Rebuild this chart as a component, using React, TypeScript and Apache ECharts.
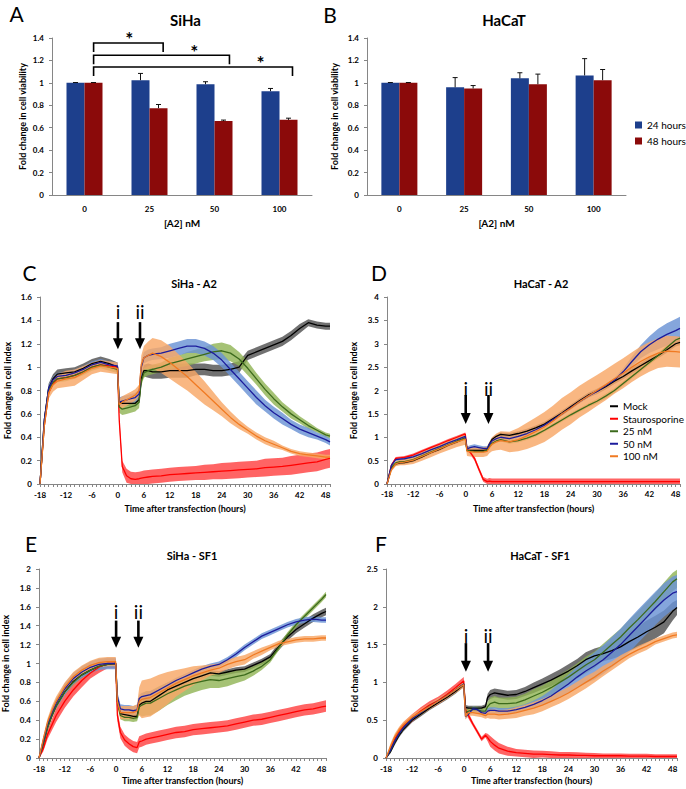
import { useEffect, useRef } from 'react';
import * as echarts from 'echarts';

// ---------- Bar panels (A, B) ----------
const DOSES = ['0', '25', '50', '100'];
const SIHA_24H = [1.0, 1.024, 0.988, 0.926];
const SIHA_24H_ERR = [0.003, 0.06, 0.022, 0.024];
const SIHA_48H = [1.0, 0.774, 0.659, 0.67];
const SIHA_48H_ERR = [0.003, 0.033, 0.009, 0.015];
const HACAT_24H = [1.0, 0.96, 1.04, 1.066];
const HACAT_24H_ERR = [0.003, 0.087, 0.05, 0.15];
const HACAT_48H = [1.0, 0.95, 0.988, 1.024];
const HACAT_48H_ERR = [0.003, 0.026, 0.09, 0.095];

// significance brackets (panel A), in category units from category 0
const SIG_START = 0.14;
const SIG_END = [1.21, 2.23, 3.2];
const SIG_STAR = [0.69, 1.69, 2.71];
const SIG_TOP = [1.356, 1.246, 1.142];
const SIG_DROP = 0.08;

// ---------- Time-course panels (C-F) ----------
const T = [-18, -17, -16, -15, -14, -12, -10, -8, -6, -4, -2, -0.1,
  0.3, 1, 2, 3, 4, 4.9,
  5.4, 6, 7, 8,
  10, 12, 14, 16, 18, 20, 22, 24, 26, 28, 30, 32, 34, 36, 38, 40, 42, 44, 46, 48,
  49];

// C: SiHa - A2
const C_MOCK = [0, 0.55, 0.82, 0.9, 0.94, 0.95, 0.96, 0.99, 1.03, 1.05, 1.03, 1.0,
  0.7, 0.69, 0.69, 0.69, 0.69, 0.72,
  0.9, 0.97, 0.97, 0.96,
  0.96, 0.97, 0.97, 0.97, 0.98, 0.98, 0.97, 0.97, 0.98, 1.0, 1.1, 1.13, 1.16, 1.19, 1.22, 1.27, 1.33, 1.38, 1.36, 1.35,
  1.35];
const C_STAU = [0, 0.5, 0.78, 0.86, 0.9, 0.91, 0.93, 0.96, 1.0, 1.02, 1.01, 1.0,
  0.55, 0.15, 0.07, 0.045, 0.04, 0.045,
  0.05, 0.055, 0.06, 0.065,
  0.07, 0.08, 0.085, 0.09, 0.095, 0.1, 0.105, 0.11, 0.115, 0.12, 0.125, 0.13, 0.14, 0.145, 0.15, 0.16, 0.17, 0.18, 0.19, 0.21,
  0.22];
const C_25 = [0, 0.52, 0.8, 0.87, 0.9, 0.91, 0.93, 0.96, 1.0, 1.02, 1.0, 0.98,
  0.66, 0.64, 0.65, 0.66, 0.67, 0.7,
  0.88, 0.95, 0.97, 0.98,
  1.0, 1.03, 1.05, 1.07, 1.09, 1.11, 1.13, 1.14, 1.12, 1.07, 0.99, 0.9, 0.81, 0.73, 0.66, 0.6, 0.55, 0.5, 0.46, 0.42,
  0.41];
const C_50 = [0, 0.55, 0.82, 0.89, 0.92, 0.93, 0.95, 0.98, 1.02, 1.04, 1.02, 1.01,
  0.7, 0.71, 0.72, 0.73, 0.74, 0.77,
  1.0, 1.08, 1.1, 1.11,
  1.12, 1.14, 1.16, 1.18, 1.18, 1.16, 1.12, 1.06, 0.98, 0.9, 0.82, 0.74, 0.67, 0.61, 0.56, 0.51, 0.47, 0.44, 0.41, 0.38,
  0.36];
const C_100 = [0, 0.5, 0.78, 0.85, 0.88, 0.9, 0.91, 0.95, 0.99, 1.01, 1.0, 0.99,
  0.68, 0.7, 0.72, 0.74, 0.76, 0.8,
  1.02, 1.08, 1.1, 1.12,
  1.09, 1.04, 0.98, 0.92, 0.85, 0.78, 0.71, 0.64, 0.57, 0.51, 0.46, 0.41, 0.37, 0.34, 0.31, 0.28, 0.26, 0.25, 0.24, 0.23,
  0.23];
const C_MOCK_E = [0, 0.03, 0.04, 0.04, 0.04, 0.04, 0.04, 0.04, 0.04, 0.04, 0.04, 0.04,
  0.02, 0.02, 0.02, 0.02, 0.02, 0.02,
  0.04, 0.05, 0.06, 0.06,
  0.06, 0.06, 0.06, 0.06, 0.05, 0.05, 0.05, 0.05, 0.05, 0.05, 0.04, 0.04, 0.04, 0.04, 0.04, 0.04, 0.04, 0.03, 0.03, 0.03,
  0.03];
const C_STAU_E = [0, 0.02, 0.02, 0.02, 0.02, 0.02, 0.02, 0.02, 0.02, 0.02, 0.02, 0.02,
  0.04, 0.05, 0.06, 0.06, 0.06, 0.06,
  0.06, 0.06, 0.06, 0.06,
  0.06, 0.06, 0.06, 0.06, 0.06, 0.065, 0.065, 0.07, 0.07, 0.07, 0.07, 0.07, 0.075, 0.075, 0.075, 0.08, 0.08, 0.08, 0.08, 0.08,
  0.08];
const C_25_E = [0, 0.03, 0.03, 0.03, 0.03, 0.03, 0.03, 0.03, 0.03, 0.03, 0.03, 0.03,
  0.05, 0.05, 0.05, 0.05, 0.05, 0.05,
  0.04, 0.04, 0.04, 0.04,
  0.04, 0.05, 0.05, 0.06, 0.06, 0.06, 0.07, 0.07, 0.07, 0.06, 0.06, 0.05, 0.05, 0.05, 0.04, 0.04, 0.03, 0.03, 0.02, 0.02,
  0.02];
const C_50_E = [0, 0.03, 0.03, 0.03, 0.03, 0.03, 0.03, 0.03, 0.03, 0.03, 0.03, 0.03,
  0.04, 0.04, 0.04, 0.04, 0.04, 0.04,
  0.05, 0.05, 0.05, 0.05,
  0.05, 0.06, 0.06, 0.06, 0.06, 0.06, 0.06, 0.06, 0.06, 0.06, 0.06, 0.06, 0.05, 0.05, 0.05, 0.04, 0.04, 0.04, 0.03, 0.03,
  0.03];
const C_100_E = [0, 0.04, 0.05, 0.06, 0.06, 0.07, 0.07, 0.06, 0.05, 0.05, 0.05, 0.05,
  0.05, 0.05, 0.05, 0.05, 0.05, 0.05,
  0.08, 0.1, 0.12, 0.13,
  0.14, 0.14, 0.13, 0.12, 0.11, 0.1, 0.08, 0.06, 0.05, 0.04, 0.03, 0.03, 0.03, 0.03, 0.02, 0.02, 0.02, 0.02, 0.02, 0.02,
  0.02];

// D: HaCaT - A2
const D_MOCK = [0, 0.35, 0.43, 0.45, 0.46, 0.5, 0.58, 0.67, 0.74, 0.83, 0.9, 0.98,
  0.72, 0.72, 0.72, 0.72, 0.72, 0.73,
  0.85, 0.95, 1.02, 1.06,
  1.04, 1.08, 1.13, 1.2, 1.28, 1.4, 1.52, 1.65, 1.78, 1.9, 1.98, 2.08, 2.2, 2.3, 2.42, 2.53, 2.64, 2.75, 2.87, 3.0,
  3.03];
const D_STAU = [0, 0.4, 0.55, 0.56, 0.57, 0.62, 0.7, 0.78, 0.85, 0.93, 1.0, 1.07,
  0.75, 0.68, 0.55, 0.32, 0.1, 0.05,
  0.06, 0.05, 0.05, 0.05,
  0.05, 0.05, 0.05, 0.05, 0.05, 0.05, 0.05, 0.05, 0.05, 0.05, 0.05, 0.05, 0.05, 0.05, 0.05, 0.05, 0.05, 0.05, 0.05, 0.05,
  0.05];
const D_25 = [0, 0.35, 0.45, 0.48, 0.48, 0.52, 0.6, 0.68, 0.76, 0.84, 0.92, 0.98,
  0.72, 0.71, 0.7, 0.7, 0.7, 0.72,
  0.8, 0.87, 0.92, 0.95,
  0.9, 0.93, 0.98, 1.05, 1.15, 1.26, 1.37, 1.48, 1.58, 1.68, 1.77, 1.88, 2.0, 2.15, 2.3, 2.45, 2.6, 2.75, 2.92, 3.08,
  3.12];
const D_50 = [0, 0.4, 0.52, 0.53, 0.54, 0.58, 0.65, 0.73, 0.8, 0.88, 0.95, 1.02,
  0.75, 0.78, 0.8, 0.78, 0.76, 0.76,
  0.85, 0.92, 0.97, 1.0,
  0.97, 1.02, 1.08, 1.16, 1.26, 1.38, 1.5, 1.63, 1.76, 1.88, 1.98, 2.1, 2.22, 2.4, 2.62, 2.83, 2.98, 3.1, 3.2, 3.28,
  3.33];
const D_100 = [0, 0.3, 0.43, 0.46, 0.47, 0.51, 0.59, 0.67, 0.75, 0.83, 0.9, 0.96,
  0.7, 0.69, 0.68, 0.68, 0.68, 0.7,
  0.78, 0.85, 0.9, 0.93,
  0.9, 0.95, 1.03, 1.12, 1.22, 1.35, 1.5, 1.62, 1.76, 1.88, 2.0, 2.12, 2.25, 2.37, 2.5, 2.62, 2.72, 2.8, 2.84, 2.83,
  2.82];
const D_MOCK_E = [0, 0.03, 0.03, 0.03, 0.03, 0.03, 0.03, 0.03, 0.03, 0.03, 0.03, 0.03,
  0.03, 0.03, 0.03, 0.03, 0.03, 0.03,
  0.04, 0.04, 0.04, 0.04,
  0.05, 0.05, 0.05, 0.05, 0.05, 0.05, 0.05, 0.05, 0.05, 0.05, 0.06, 0.06, 0.06, 0.06, 0.06, 0.06, 0.06, 0.06, 0.06, 0.06,
  0.06];
const D_STAU_E = [0, 0.03, 0.03, 0.03, 0.03, 0.03, 0.03, 0.03, 0.03, 0.03, 0.03, 0.03,
  0.03, 0.04, 0.05, 0.05, 0.05, 0.06,
  0.07, 0.07, 0.07, 0.07,
  0.07, 0.07, 0.07, 0.07, 0.07, 0.07, 0.07, 0.07, 0.07, 0.07, 0.07, 0.07, 0.07, 0.07, 0.07, 0.07, 0.07, 0.07, 0.07, 0.07,
  0.07];
const D_25_E = [0, 0.03, 0.03, 0.03, 0.03, 0.03, 0.03, 0.03, 0.03, 0.03, 0.03, 0.03,
  0.03, 0.03, 0.03, 0.03, 0.03, 0.03,
  0.04, 0.04, 0.04, 0.04,
  0.04, 0.04, 0.04, 0.04, 0.04, 0.04, 0.04, 0.04, 0.04, 0.04, 0.05, 0.05, 0.05, 0.05, 0.05, 0.05, 0.05, 0.05, 0.05, 0.05,
  0.05];
const D_50_E = [0, 0.03, 0.03, 0.03, 0.03, 0.03, 0.03, 0.03, 0.03, 0.03, 0.03, 0.03,
  0.05, 0.05, 0.05, 0.05, 0.05, 0.05,
  0.04, 0.04, 0.04, 0.04,
  0.04, 0.04, 0.04, 0.04, 0.04, 0.04, 0.04, 0.04, 0.04, 0.04, 0.04, 0.04, 0.05, 0.07, 0.1, 0.14, 0.18, 0.22, 0.24, 0.25,
  0.25];
const D_100_E = [0, 0.03, 0.05, 0.06, 0.07, 0.08, 0.09, 0.1, 0.1, 0.11, 0.11, 0.12,
  0.1, 0.1, 0.1, 0.1, 0.1, 0.1,
  0.12, 0.15, 0.18, 0.2,
  0.22, 0.25, 0.28, 0.3, 0.32, 0.33, 0.34, 0.34, 0.34, 0.34, 0.33, 0.33, 0.32, 0.32, 0.32, 0.32, 0.32, 0.32, 0.33, 0.33,
  0.33];

// E: SiHa - SF1
const E_MOCK = [0, 0.15, 0.33, 0.45, 0.55, 0.7, 0.81, 0.88, 0.93, 0.97, 0.99, 1.0,
  0.6, 0.47, 0.46, 0.45, 0.44, 0.44,
  0.56, 0.58, 0.6, 0.6,
  0.66, 0.72, 0.76, 0.8, 0.84, 0.87, 0.9, 0.89, 0.91, 0.93, 0.94, 0.98, 1.02, 1.07, 1.18, 1.28, 1.36, 1.42, 1.48, 1.53,
  1.55];
const E_STAU = [0, 0.1, 0.25, 0.35, 0.45, 0.6, 0.72, 0.82, 0.9, 0.96, 1.0, 1.0,
  0.45, 0.27, 0.19, 0.15, 0.12, 0.11,
  0.17, 0.18, 0.2, 0.21,
  0.23, 0.25, 0.27, 0.28, 0.3, 0.31, 0.32, 0.33, 0.34, 0.36, 0.38, 0.4, 0.41, 0.43, 0.45, 0.47, 0.49, 0.51, 0.52, 0.54,
  0.55];
const E_25 = [0, 0.15, 0.32, 0.45, 0.55, 0.7, 0.8, 0.88, 0.93, 0.97, 0.99, 1.0,
  0.6, 0.45, 0.43, 0.43, 0.42, 0.43,
  0.54, 0.56, 0.58, 0.58,
  0.63, 0.68, 0.72, 0.76, 0.79, 0.81, 0.83, 0.82, 0.84, 0.86, 0.88, 0.92, 0.97, 1.04, 1.17, 1.3, 1.41, 1.5, 1.59, 1.68,
  1.73];
const E_50 = [0, 0.18, 0.36, 0.48, 0.58, 0.73, 0.84, 0.91, 0.96, 0.99, 1.0, 1.0,
  0.65, 0.52, 0.51, 0.51, 0.5, 0.51,
  0.63, 0.65, 0.66, 0.67,
  0.72, 0.77, 0.82, 0.86, 0.9, 0.94, 0.97, 0.99, 1.04, 1.1, 1.17, 1.23, 1.29, 1.33, 1.37, 1.41, 1.44, 1.46, 1.47, 1.46,
  1.46];
const E_100 = [0, 0.2, 0.38, 0.5, 0.6, 0.75, 0.86, 0.93, 0.98, 1.01, 1.02, 1.02,
  0.6, 0.48, 0.48, 0.48, 0.48, 0.5,
  0.6, 0.62, 0.63, 0.64,
  0.69, 0.74, 0.79, 0.83, 0.87, 0.9, 0.93, 0.95, 0.99, 1.02, 1.04, 1.09, 1.13, 1.17, 1.21, 1.23, 1.25, 1.26, 1.26, 1.27,
  1.27];
const E_MOCK_E = [0, 0.02, 0.03, 0.03, 0.03, 0.03, 0.03, 0.03, 0.03, 0.03, 0.03, 0.03,
  0.03, 0.03, 0.03, 0.03, 0.03, 0.03,
  0.03, 0.03, 0.03, 0.03,
  0.03, 0.03, 0.03, 0.03, 0.03, 0.03, 0.03, 0.03, 0.03, 0.03, 0.03, 0.03, 0.03, 0.03, 0.04, 0.04, 0.04, 0.04, 0.04, 0.04,
  0.04];
const E_STAU_E = [0, 0.03, 0.05, 0.06, 0.07, 0.07, 0.07, 0.07, 0.06, 0.06, 0.05, 0.05,
  0.06, 0.06, 0.06, 0.06, 0.06, 0.06,
  0.06, 0.06, 0.06, 0.06,
  0.06, 0.06, 0.06, 0.06, 0.06, 0.06, 0.06, 0.06, 0.06, 0.06, 0.06, 0.06, 0.06, 0.06, 0.06, 0.06, 0.06, 0.06, 0.06, 0.06,
  0.06];
const E_25_E = [0, 0.03, 0.03, 0.03, 0.03, 0.03, 0.03, 0.03, 0.03, 0.03, 0.03, 0.03,
  0.04, 0.04, 0.04, 0.04, 0.04, 0.04,
  0.08, 0.12, 0.13, 0.13,
  0.13, 0.12, 0.11, 0.1, 0.1, 0.09, 0.09, 0.08, 0.08, 0.07, 0.06, 0.05, 0.04, 0.03, 0.03, 0.03, 0.03, 0.03, 0.03, 0.03,
  0.03];
const E_50_E = [0, 0.03, 0.04, 0.05, 0.05, 0.06, 0.06, 0.06, 0.06, 0.06, 0.06, 0.06,
  0.05, 0.05, 0.05, 0.05, 0.05, 0.05,
  0.04, 0.04, 0.04, 0.04,
  0.03, 0.03, 0.03, 0.03, 0.03, 0.03, 0.03, 0.03, 0.03, 0.03, 0.03, 0.03, 0.03, 0.03, 0.03, 0.03, 0.03, 0.03, 0.03, 0.03,
  0.03];
const E_100_E = [0, 0.03, 0.04, 0.05, 0.05, 0.05, 0.05, 0.05, 0.05, 0.05, 0.05, 0.05,
  0.07, 0.07, 0.07, 0.07, 0.07, 0.07,
  0.15, 0.2, 0.2, 0.2,
  0.19, 0.17, 0.14, 0.12, 0.1, 0.08, 0.06, 0.05, 0.05, 0.05, 0.05, 0.04, 0.04, 0.03, 0.03, 0.03, 0.03, 0.03, 0.03, 0.03,
  0.03];

// F: HaCaT - SF1
const F_MOCK = [0, 0.08, 0.2, 0.3, 0.38, 0.5, 0.58, 0.66, 0.73, 0.8, 0.88, 0.97,
  0.67, 0.66, 0.66, 0.66, 0.66, 0.68,
  0.8, 0.84, 0.86, 0.85,
  0.83, 0.84, 0.88, 0.93, 0.98, 1.03, 1.09, 1.15, 1.22, 1.3, 1.35, 1.38, 1.42, 1.47, 1.54, 1.6, 1.67, 1.73, 1.8, 1.94,
  1.99];
const F_STAU = [0, 0.12, 0.25, 0.35, 0.42, 0.53, 0.62, 0.7, 0.76, 0.84, 0.93, 1.02,
  0.64, 0.56, 0.45, 0.35, 0.25, 0.3,
  0.27, 0.22, 0.17, 0.13,
  0.09, 0.07, 0.06, 0.05, 0.05, 0.045, 0.04, 0.04, 0.035, 0.035, 0.03, 0.03, 0.03, 0.03, 0.025, 0.025, 0.025, 0.02, 0.02, 0.02,
  0.02];
const F_25 = [0, 0.1, 0.22, 0.32, 0.4, 0.52, 0.6, 0.68, 0.75, 0.82, 0.9, 0.98,
  0.6, 0.62, 0.64, 0.64, 0.62, 0.62,
  0.68, 0.72, 0.74, 0.72,
  0.72, 0.73, 0.77, 0.82, 0.87, 0.93, 1.0, 1.07, 1.15, 1.23, 1.3, 1.4, 1.5, 1.6, 1.72, 1.83, 1.95, 2.07, 2.2, 2.33,
  2.37];
const F_50 = [0, 0.1, 0.22, 0.32, 0.4, 0.52, 0.6, 0.68, 0.75, 0.82, 0.9, 0.98,
  0.55, 0.58, 0.65, 0.64, 0.6, 0.59,
  0.62, 0.63, 0.63, 0.62,
  0.62, 0.64, 0.67, 0.71, 0.76, 0.82, 0.9, 0.98, 1.07, 1.15, 1.22, 1.3, 1.4, 1.5, 1.62, 1.74, 1.86, 1.98, 2.09, 2.18,
  2.2];
const F_100 = [0, 0.15, 0.28, 0.37, 0.44, 0.54, 0.61, 0.68, 0.75, 0.82, 0.9, 0.97,
  0.55, 0.6, 0.6, 0.59, 0.58, 0.56,
  0.58, 0.58, 0.58, 0.57,
  0.58, 0.6, 0.63, 0.66, 0.7, 0.75, 0.8, 0.86, 0.93, 1.0, 1.07, 1.15, 1.22, 1.3, 1.37, 1.43, 1.48, 1.54, 1.58, 1.62,
  1.63];
const F_MOCK_E = [0, 0.02, 0.03, 0.03, 0.03, 0.03, 0.03, 0.03, 0.03, 0.03, 0.03, 0.03,
  0.03, 0.03, 0.03, 0.03, 0.03, 0.03,
  0.05, 0.06, 0.06, 0.06,
  0.06, 0.06, 0.06, 0.07, 0.07, 0.08, 0.08, 0.09, 0.09, 0.1, 0.1, 0.1, 0.11, 0.12, 0.13, 0.14, 0.15, 0.15, 0.15, 0.12,
  0.1];
const F_STAU_E = [0, 0.03, 0.04, 0.05, 0.05, 0.05, 0.05, 0.05, 0.05, 0.05, 0.05, 0.05,
  0.04, 0.04, 0.03, 0.03, 0.03, 0.03,
  0.05, 0.07, 0.07, 0.07,
  0.06, 0.05, 0.05, 0.05, 0.045, 0.045, 0.04, 0.04, 0.04, 0.035, 0.035, 0.03, 0.03, 0.03, 0.03, 0.03, 0.03, 0.03, 0.03, 0.03,
  0.03];
const F_25_E = [0, 0.03, 0.03, 0.03, 0.03, 0.03, 0.03, 0.03, 0.03, 0.03, 0.03, 0.03,
  0.04, 0.04, 0.04, 0.04, 0.04, 0.04,
  0.06, 0.08, 0.08, 0.08,
  0.08, 0.08, 0.08, 0.09, 0.09, 0.1, 0.1, 0.1, 0.1, 0.11, 0.11, 0.11, 0.11, 0.11, 0.11, 0.11, 0.11, 0.11, 0.12, 0.12,
  0.12];
const F_50_E = [0, 0.03, 0.03, 0.03, 0.03, 0.03, 0.03, 0.03, 0.03, 0.03, 0.03, 0.03,
  0.03, 0.03, 0.03, 0.03, 0.03, 0.03,
  0.04, 0.04, 0.04, 0.04,
  0.04, 0.04, 0.04, 0.05, 0.06, 0.08, 0.1, 0.12, 0.14, 0.16, 0.18, 0.19, 0.2, 0.21, 0.22, 0.22, 0.22, 0.22, 0.22, 0.22,
  0.22];
const F_100_E = [0, 0.04, 0.04, 0.04, 0.04, 0.04, 0.04, 0.04, 0.04, 0.04, 0.04, 0.04,
  0.04, 0.04, 0.04, 0.04, 0.04, 0.04,
  0.05, 0.06, 0.06, 0.06,
  0.06, 0.07, 0.07, 0.08, 0.08, 0.08, 0.08, 0.08, 0.08, 0.08, 0.07, 0.07, 0.06, 0.06, 0.05, 0.05, 0.05, 0.04, 0.04, 0.04,
  0.04];

// arrows i / ii (time, label y, shaft top y, tip y)
const ARROW_LABELS = ['i', 'ii'];
const ARROWS_C = [[0, 1.487, 1.385, 1.154], [5.1, 1.487, 1.385, 1.154]];
const ARROWS_D = [[0, 2.064, 1.904, 1.283], [5.2, 2.064, 1.904, 1.283]];
const ARROWS_E = [[0, 1.56, 1.454, 1.167], [5.2, 1.56, 1.454, 1.167]];
const ARROWS_F = [[0.4, 1.64, 1.52, 1.14], [5.5, 1.64, 1.52, 1.14]];

// ---------- styling ----------
const FONT = 'Lato';
const GRAY = '#868686';
const BLUE = '#1d3f8c';
const DARKRED = '#8b0a0a';
const BAR_W = 18;

const STYLES = [
  { name: 'Mock', line: '#000000', band: '#3a3a3a', op: 0.72 },
  { name: 'Staurosporine', line: '#ff0000', band: '#ff3030', op: 0.75 },
  { name: '25 nM', line: '#3c6a1c', band: '#8fb352', op: 0.8 },
  { name: '50 nM', line: '#1c1c9c', band: '#6a92d4', op: 0.82 },
  { name: '100 nM', line: '#f07a22', band: '#f8a766', op: 0.82 },
];

const PANELS = [
  { gi: 2, vals: [C_MOCK, C_STAU, C_25, C_50, C_100], errs: [C_MOCK_E, C_STAU_E, C_25_E, C_50_E, C_100_E], arrows: ARROWS_C },
  { gi: 3, vals: [D_MOCK, D_STAU, D_25, D_50, D_100], errs: [D_MOCK_E, D_STAU_E, D_25_E, D_50_E, D_100_E], arrows: ARROWS_D },
  { gi: 4, vals: [E_MOCK, E_STAU, E_25, E_50, E_100], errs: [E_MOCK_E, E_STAU_E, E_25_E, E_50_E, E_100_E], arrows: ARROWS_E },
  { gi: 5, vals: [F_MOCK, F_STAU, F_25, F_50, F_100], errs: [F_MOCK_E, F_STAU_E, F_25_E, F_50_E, F_100_E], arrows: ARROWS_F },
];

const lab = (extra: any) => ({ color: '#000', fontFamily: FONT, fontWeight: 'bold', fontSize: 8, ...extra });
const nameStyle = (size: number) => ({ color: '#000', fontFamily: FONT, fontWeight: 'bold', fontSize: size });
const axisLine = { show: true, onZero: false, lineStyle: { color: GRAY, width: 1 } };
const yTick = { show: true, length: 3, lineStyle: { color: GRAY } };

function catX(gi: number) {
  return {
    type: 'category', gridIndex: gi, data: DOSES, axisLine, axisTick: { show: false },
    axisLabel: lab({ margin: 10 }), splitLine: { show: false },
    name: '[A2] nM', nameLocation: 'middle', nameGap: 22.5, nameTextStyle: nameStyle(10),
  };
}
function timeX(gi: number, margin: number, nameGap: number) {
  return {
    type: 'value', gridIndex: gi, min: -18, max: 49, interval: 6, axisLine,
    axisTick: { show: true, length: 3, lineStyle: { color: GRAY } },
    minorTick: { show: true, splitNumber: 6, length: 3, lineStyle: { color: GRAY } },
    splitLine: { show: false }, minorSplitLine: { show: false },
    axisLabel: lab({ margin, showMaxLabel: false }),
    name: 'Time after transfection (hours)', nameLocation: 'middle', nameGap, nameTextStyle: nameStyle(9),
  };
}
function valY(gi: number, max: number, interval: number, name: string, nameGap: number) {
  return {
    type: 'value', gridIndex: gi, min: 0, max, interval, axisLine, axisTick: yTick,
    splitLine: { show: false }, axisLabel: lab({ margin: 8 }),
    name, nameLocation: 'middle', nameGap, nameTextStyle: nameStyle(9),
  };
}

function barErrSeries(gi: number, vals: number[], errs: number[], side: number) {
  return {
    type: 'custom', xAxisIndex: gi, yAxisIndex: gi, z: 4, silent: true,
    data: vals.map((v, i) => [i, v, v + errs[i]]),
    encode: { x: 0, y: [1, 2] },
    renderItem: (_p: any, api: any) => {
      const p0 = api.coord([api.value(0), api.value(1)]);
      const p1 = api.coord([api.value(0), api.value(2)]);
      const x = p0[0] + (side * BAR_W) / 2;
      return {
        type: 'group', children: [
          { type: 'line', shape: { x1: x, y1: p0[1], x2: x, y2: p1[1] }, style: { stroke: '#111', lineWidth: 1 } },
          { type: 'line', shape: { x1: x - 2.5, y1: p1[1], x2: x + 2.5, y2: p1[1] }, style: { stroke: '#111', lineWidth: 1 } },
        ],
      };
    },
  };
}

function bracketSeries() {
  return {
    type: 'custom', xAxisIndex: 0, yAxisIndex: 0, z: 5, silent: true,
    data: SIG_TOP.map((y) => [0, y]),
    renderItem: (p: any, api: any) => {
      const i = p.dataIndex;
      const top = api.coord([0, SIG_TOP[i]]);
      const yb = api.coord([0, SIG_TOP[i] - SIG_DROP])[1];
      const bw = api.size([1, 0])[0];
      const x0 = top[0] + SIG_START * bw;
      const x1 = top[0] + SIG_END[i] * bw;
      const xs = top[0] + SIG_STAR[i] * bw;
      return {
        type: 'group', children: [
          { type: 'polyline', shape: { points: [[x0, yb], [x0, top[1]], [x1, top[1]], [x1, yb]] }, style: { stroke: '#000', lineWidth: 1.6, fill: null } },
          { type: 'text', x: xs, y: top[1] - 4, style: { text: '*', fill: '#000', fontFamily: FONT, fontWeight: 'bold', fontSize: 19, align: 'center', verticalAlign: 'middle' } },
        ],
      };
    },
  };
}

function bandSeries(gi: number, vals: number[], errs: number[], color: string, op: number) {
  const lo = vals.map((v, i) => Math.max(0, v - errs[i]));
  const hi = vals.map((v, i) => v + errs[i]);
  return {
    type: 'custom', xAxisIndex: gi, yAxisIndex: gi, z: 1, silent: true,
    data: T.map((t, i) => [t, lo[i], hi[i]]),
    encode: { x: 0, y: [1, 2] },
    renderItem: (p: any, api: any) => {
      if (p.dataIndex !== 0) return null;
      const pts: number[][] = [];
      for (let i = 0; i < T.length; i++) pts.push(api.coord([T[i], hi[i]]));
      for (let i = T.length - 1; i >= 0; i--) pts.push(api.coord([T[i], lo[i]]));
      return { type: 'polygon', shape: { points: pts }, style: { fill: color, opacity: op } };
    },
  };
}

function arrowSeries(gi: number, items: number[][]) {
  return {
    type: 'custom', xAxisIndex: gi, yAxisIndex: gi, z: 6, silent: true,
    data: items,
    encode: { x: 0, y: [1, 2, 3] },
    renderItem: (p: any, api: any) => {
      const t = api.value(0);
      const pl = api.coord([t, api.value(1)]);
      const pt = api.coord([t, api.value(2)]);
      const pb = api.coord([t, api.value(3)]);
      return {
        type: 'group', children: [
          { type: 'text', x: pl[0], y: pl[1] + 1, style: { text: ARROW_LABELS[p.dataIndex], fill: '#000', fontFamily: FONT, fontSize: 19, align: 'center', verticalAlign: 'middle' } },
          { type: 'line', shape: { x1: pt[0], y1: pt[1], x2: pb[0], y2: pb[1] - 9 }, style: { stroke: '#000', lineWidth: 2.6 } },
          { type: 'polygon', shape: { points: [[pb[0] - 5, pb[1] - 11], [pb[0] + 5, pb[1] - 11], [pb[0], pb[1]]] }, style: { fill: '#000' } },
        ],
      };
    },
  };
}

function buildOption() {
  const grids = [
    { left: 52, top: 38, width: 260, height: 157 },
    { left: 367, top: 38, width: 259, height: 157 },
    { left: 40, top: 297, width: 290, height: 187 },
    { left: 387, top: 297, width: 293, height: 187 },
    { left: 39, top: 569, width: 287, height: 189 },
    { left: 386, top: 569, width: 291, height: 189 },
  ].map((g) => ({ ...g, containLabel: false, outerBoundsMode: 'none' }));

  const xAxis = [catX(0), catX(1), timeX(2, 6.7, 20), timeX(3, 6.3, 20), timeX(4, 7, 18), timeX(5, 7, 18)];
  const yAxis = [
    valY(0, 1.4, 0.2, 'Fold change in cell viability', 25.5),
    valY(1, 1.4, 0.2, 'Fold change in cell viability', 28.5),
    valY(2, 1.6, 0.2, 'Fold change in cell index', 28),
    valY(3, 4, 0.5, 'Fold change in cell index', 29),
    valY(4, 2, 0.2, 'Fold change in cell index', 29),
    valY(5, 2.5, 0.5, 'Fold change in cell index', 27),
  ];

  const series: any[] = [];
  const barPairs = [
    { gi: 0, a: SIHA_24H, ae: SIHA_24H_ERR, b: SIHA_48H, be: SIHA_48H_ERR },
    { gi: 1, a: HACAT_24H, ae: HACAT_24H_ERR, b: HACAT_48H, be: HACAT_48H_ERR },
  ];
  barPairs.forEach((bp) => {
    series.push({ type: 'bar', name: '24 hours', xAxisIndex: bp.gi, yAxisIndex: bp.gi, data: bp.a, barWidth: BAR_W, barGap: '0%', itemStyle: { color: BLUE }, silent: true });
    series.push({ type: 'bar', name: '48 hours', xAxisIndex: bp.gi, yAxisIndex: bp.gi, data: bp.b, barWidth: BAR_W, barGap: '0%', itemStyle: { color: DARKRED }, silent: true });
    series.push(barErrSeries(bp.gi, bp.a, bp.ae, -1));
    series.push(barErrSeries(bp.gi, bp.b, bp.be, 1));
  });
  series.push(bracketSeries());

  PANELS.forEach((pn) => {
    STYLES.forEach((st, k) => series.push(bandSeries(pn.gi, pn.vals[k], pn.errs[k], st.band, st.op)));
    STYLES.forEach((st, k) =>
      series.push({
        type: 'line', name: st.name, xAxisIndex: pn.gi, yAxisIndex: pn.gi, z: 3, silent: true,
        data: T.map((t, i) => [t, pn.vals[k][i]]),
        showSymbol: false, symbol: 'none',
        lineStyle: { width: 1.3, color: st.line }, itemStyle: { color: st.line },
      })
    );
    series.push(arrowSeries(pn.gi, pn.arrows));
  });

  const txt = (text: string, x: number, y: number, size: number, bold: boolean) => ({
    type: 'text', x, y, silent: true,
    style: { text, fill: '#000', fontFamily: FONT, fontSize: size, fontWeight: bold ? 'bold' : 'normal', align: 'center', verticalAlign: 'middle' },
  });

  return {
    animation: false,
    backgroundColor: '#ffffff',
    textStyle: { fontFamily: FONT },
    grid: grids,
    xAxis,
    yAxis,
    legend: [
      {
        data: STYLES.map((s) => s.name), orient: 'vertical', left: 610, top: 400, padding: 0,
        itemWidth: 8, itemHeight: 2, itemGap: 0, icon: 'rect', selectedMode: false,
        textStyle: { fontFamily: FONT, fontSize: 10, color: '#000', lineHeight: 12.5 },
      },
      {
        data: ['24 hours', '48 hours'], orient: 'vertical', left: 635, top: 118.5, padding: 0,
        itemWidth: 7, itemHeight: 7, itemGap: 3, icon: 'rect', selectedMode: false,
        textStyle: { fontFamily: FONT, fontSize: 10, color: '#000', lineHeight: 13 },
      },
    ],
    graphic: {
      elements: [
        txt('A', 16.5, 13.5, 21, false),
        txt('B', 330, 14.5, 21, false),
        txt('C', 29.5, 272.5, 21, false),
        txt('D', 379, 272.5, 21, false),
        txt('E', 31, 543.5, 21, false),
        txt('F', 381, 543.5, 21, false),
        txt('SiHa', 185.5, 20, 15, true),
        txt('HaCaT', 504, 20, 15, true),
        txt('SiHa - A2', 194, 283, 11, true),
        txt('HaCaT - A2', 541, 283, 11, true),
        txt('SiHa - SF1', 192, 555, 11, true),
        txt('HaCaT - SF1', 540, 555, 11, true),
      ],
    },
    series,
  };
}

export default function App() {
  const ref = useRef<HTMLDivElement>(null);
  useEffect(() => {
    const chart = echarts.init(ref.current!, null, { renderer: 'svg' });
    chart.setOption(buildOption() as any);
    return () => chart.dispose();
  }, []);
  return (
    <div
      ref={ref}
      style={{ position: 'fixed', left: 0, top: 0, width: 686, height: 789, background: '#fff' }}
    />
  );
}
